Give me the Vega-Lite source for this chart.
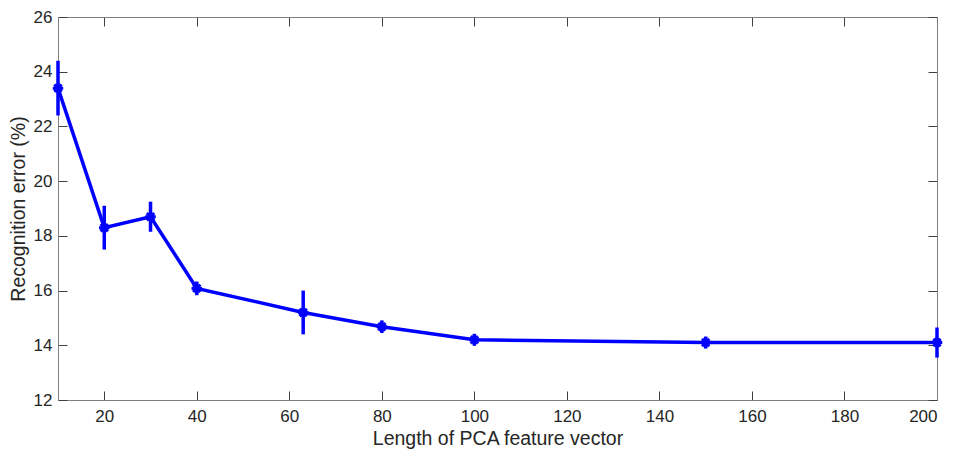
{
  "$schema": "https://vega.github.io/schema/vega-lite/v6.json",
  "autosize": {"type": "none"},
  "padding": {"left": 58, "top": 17, "right": 17, "bottom": 52},
  "width": 879,
  "height": 383,
  "background": "white",
  "config": {
    "view": {"stroke": null},
    "font": "Liberation Sans",
    "axis": {
      "grid": false,
      "domainColor": "#808080",
      "domainWidth": 1,
      "tickColor": "#404040",
      "tickWidth": 1,
      "tickSize": -9,
      "labelColor": "#262626",
      "labelFontSize": 17,
      "titleColor": "#262626",
      "titleFontSize": 19.5,
      "titleFontWeight": "normal"
    }
  },
  "data": {
    "values": [
      {"x": 10, "y": 23.4, "lo": 22.4, "hi": 24.4},
      {"x": 20, "y": 18.3, "lo": 17.5, "hi": 19.1},
      {"x": 30, "y": 18.7, "lo": 18.15, "hi": 19.25},
      {"x": 40, "y": 16.08, "lo": 15.83, "hi": 16.33},
      {"x": 63, "y": 15.2, "lo": 14.4, "hi": 16.0},
      {"x": 80, "y": 14.68, "lo": 14.45, "hi": 14.91},
      {"x": 100, "y": 14.2, "lo": 13.98, "hi": 14.42},
      {"x": 150, "y": 14.1, "lo": 13.88, "hi": 14.32},
      {"x": 200, "y": 14.1, "lo": 13.55, "hi": 14.65}
    ]
  },
  "resolve": {"axis": {"x": "independent", "y": "independent"}},
  "layer": [
    {
      "mark": {"type": "line", "color": "#0000ff", "strokeWidth": 3.5},
      "encoding": {
        "x": {
          "field": "x", "type": "quantitative",
          "scale": {"domain": [10, 200], "nice": false, "zero": false},
          "axis": {"orient": "bottom", "values": [20, 40, 60, 80, 100, 120, 140, 160, 180, 200], "labelPadding": 17, "title": "Length of PCA feature vector", "titlePadding": 5}
        },
        "y": {
          "field": "y", "type": "quantitative",
          "scale": {"domain": [12, 26], "nice": false, "zero": false},
          "axis": {"orient": "left", "values": [12, 14, 16, 18, 20, 22, 24, 26], "labelPadding": 15, "title": "Recognition error (%)", "titlePadding": 5}
        }
      }
    },
    {
      "mark": {"type": "rule", "color": "#0000ff", "strokeWidth": 3.5},
      "encoding": {
        "x": {
          "field": "x", "type": "quantitative",
          "axis": {"orient": "top", "values": [20, 40, 60, 80, 100, 120, 140, 160, 180, 200], "labels": false, "title": null}
        },
        "y": {
          "field": "lo", "type": "quantitative",
          "axis": {"orient": "right", "values": [12, 14, 16, 18, 20, 22, 24, 26], "labels": false, "title": null}
        },
        "y2": {"field": "hi"}
      }
    },
    {
      "mark": {"type": "point", "shape": "M-1,0L1,0M0,-1L0,1M-0.7,-0.7L0.7,0.7M-0.7,0.7L0.7,-0.7", "filled": false, "color": "#0000ff", "strokeWidth": 3, "size": 110, "opacity": 1},
      "encoding": {
        "x": {"field": "x", "type": "quantitative", "axis": null},
        "y": {"field": "y", "type": "quantitative", "axis": null}
      }
    }
  ]
}
